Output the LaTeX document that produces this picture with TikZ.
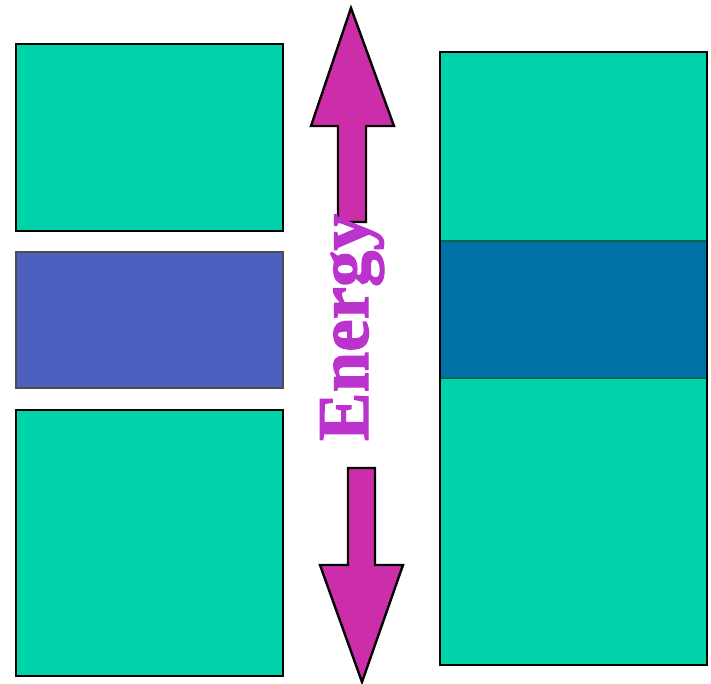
\documentclass[tikz,border=0pt]{standalone}
\usepackage{fontspec}
\setmainfont{Liberation Serif}
\newfontfamily\energyfont[FakeBold=1.6]{Liberation Serif}
\definecolor{bandgreen}{RGB}{0,210,170}
\definecolor{gapblue}{RGB}{77,96,192}
\definecolor{darkband}{RGB}{0,114,168}
\definecolor{bandline}{RGB}{0,100,80}
\definecolor{arrowmag}{RGB}{204,46,170}
\definecolor{textmag}{RGB}{187,51,204}
\definecolor{graybord}{RGB}{77,77,77}
\tikzset{
  band/.style={draw=black, line width=2.2pt, fill=bandgreen},
  gapbox/.style={draw=graybord, line width=2.2pt, fill=gapblue},
  bigarrow/.style={draw=black, line width=2.4pt, fill=arrowmag, line join=miter},
}
\begin{document}
\begin{tikzpicture}[x=1pt,y=-1pt]
\useasboundingbox (0,0) rectangle (711,684);
% left column
\draw[band] (16,44) rectangle (283,231);
\draw[gapbox] (16,252) rectangle (283,388);
\draw[band] (16,410) rectangle (283,676);
% right column
\draw[band] (440,52) rectangle (707,665);
\fill[darkband] (441,241) rectangle (706,378);
\draw[bandline, line width=2.2pt] (441,241) -- (706,241) (441,378) -- (706,378);
\draw[black, line width=2.2pt] (440,52) rectangle (707,665);
% up arrow
\draw[bigarrow] (351,8) -- (394,126) -- (366,126) -- (366,222) -- (338,222) -- (338,126) -- (311,126) -- cycle;
% down arrow
\draw[bigarrow] (362,682) -- (403,565) -- (375,565) -- (375,468) -- (348,468) -- (348,565) -- (320,565) -- cycle;
% label
\node[rotate=90, anchor=base, inner sep=0pt, text=textmag, font=\energyfont\fontsize{73}{73}\selectfont\bfseries] (lbl) at (368,327.5) {Energy};
\end{tikzpicture}
\end{document}
